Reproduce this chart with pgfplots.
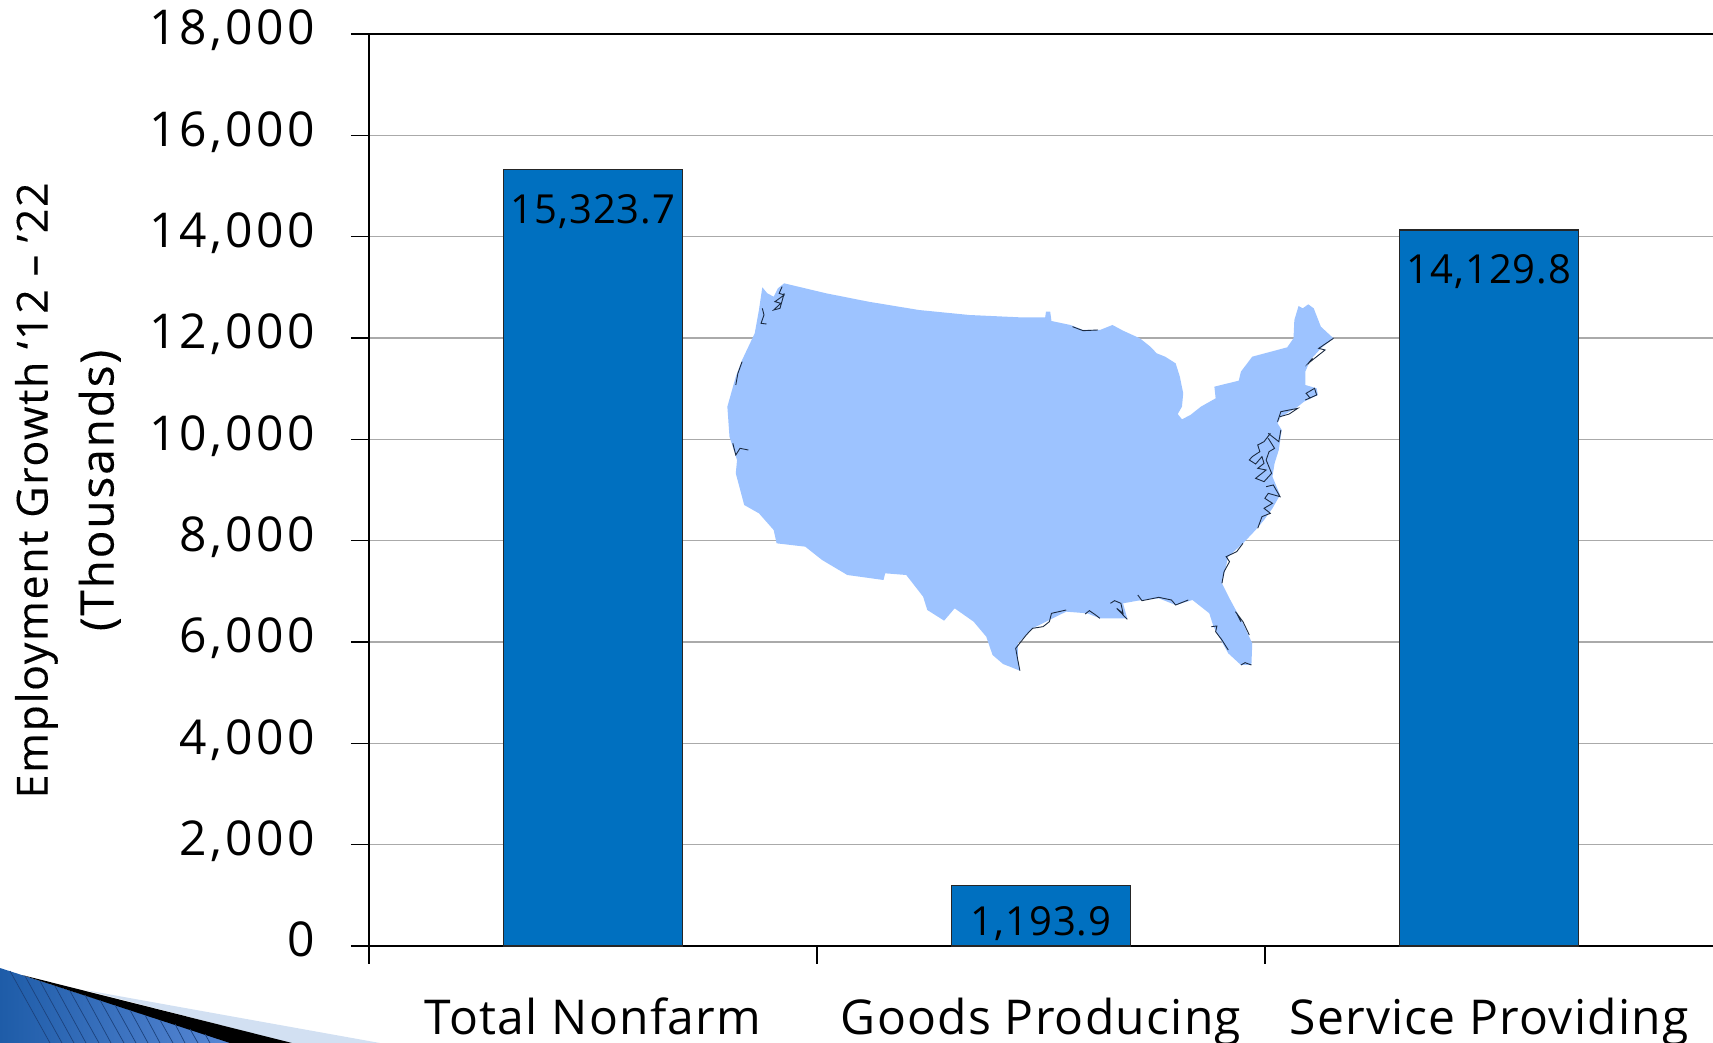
\documentclass[border=0pt]{standalone}
\usepackage{fontspec}
\setmainfont[LetterSpace=4]{Open Sans}
\usepackage{pgfplots}
\pgfplotsset{compat=1.18}
\definecolor{barblue}{RGB}{0,112,192}
\definecolor{mapblue}{RGB}{157,195,255}
\definecolor{coast}{RGB}{27,42,65}
\definecolor{gridg}{RGB}{170,170,170}
\definecolor{wl}{RGB}{30,92,168}
\definecolor{wr}{RGB}{88,136,214}
\definecolor{wband}{RGB}{210,224,242}
\definecolor{wstripe}{RGB}{28,66,125}
\begin{document}
\begin{tikzpicture}
\useasboundingbox (0,0) rectangle (856.5pt,521.5pt);
% main chart
\begin{axis}[
  at={(184.5pt,48.5pt)}, anchor=south west,
  scale only axis, width=672pt, height=456pt,
  xmin=0, xmax=3, ymin=0, ymax=18000,
  axis x line*=bottom, axis y line*=left,
  axis line style={black, line width=0.8pt, -},
  clip=false,
  ytick={0,2000,...,18000},
  xtick={0,1,2},
  xticklabels={},
  extra x ticks={0.5,1.5,2.5},
  extra x tick labels={Total Nonfarm,Goods Producing,Service Providing},
  extra x tick style={major tick length=0pt,
    tick label style={yshift=-22.5pt, font=\fontsize{24}{24}\selectfont\addfontfeature{LetterSpace=2.6}}},
  tick align=outside,
  major tick length=9pt,
  tick style={black, line width=0.8pt},
  ymajorgrids, grid style={gridg, line width=0.8pt},
  scaled y ticks=false,
  /pgf/number format/.cd, 1000 sep={,}, assume math mode=true,
  /pgfplots/.cd,
  yticklabel style={anchor=base east, xshift=-14.5pt, yshift=-5.4pt,
    font=\fontsize{24}{24}\selectfont\addfontfeature{LetterSpace=7}},
  ylabel={Employment Growth ‘12 – ’22\\{\fontsize{23}{33}\selectfont (Thousands)}},
  ylabel style={align=center, at={(axis description cs:-0.224,0.4995)}, anchor=center,
    font=\fontsize{21.4}{33}\selectfont\addfontfeature{FakeBold=0.25}},
]
\addplot[ybar, bar width=0.4, fill=barblue, draw=black!85, line width=0.7pt,
  bar shift=0pt,
  point meta=explicit symbolic,
  nodes near coords,
  every node near coord/.append style={anchor=center, yshift=-21pt, black,
    font=\fontsize{20}{20}\selectfont\addfontfeature{LetterSpace=2.5}}]
 coordinates {(0.5,15323.7)[15,323.7] (2.5,14129.8)[14,129.8]};
\addplot[ybar, bar width=0.4, fill=barblue, draw=black!85, line width=0.7pt,
  bar shift=0pt,
  point meta=explicit symbolic,
  nodes near coords,
  every node near coord/.append style={anchor=center, yshift=-19pt, black,
    font=\fontsize{20}{20}\selectfont\addfontfeature{LetterSpace=2.5}}]
 coordinates {(1.5,1193.9)[1,193.9]};
\addplot[black, line width=0.8pt, forget plot] coordinates {(-0.04,18000) (3,18000)};
\end{axis}
% decorative corner
\begin{axis}[
  at={(0pt,0pt)}, anchor=south west,
  scale only axis, width=856.5pt, height=521.5pt,
  xmin=0, xmax=1713, ymin=0, ymax=1043, y dir=reverse,
  hide axis, clip=true,
]
\addplot[draw=none, fill=wband] coordinates {(85,990) (290,1043) (380,1043) (85,990)};
\addplot[draw=none, left color=wl, right color=wr] coordinates {(0,968) (233,1043) (0,1043) (0,968)};
\addplot[draw=none, fill=black] coordinates {(22,975) (230,1043) (292,1043) (22,975)};
\addplot[draw=wstripe, line width=0.35pt, unbounded coords=jump] coordinates {
(10,971)(50,1043)(nan,nan)
(25,976)(62,1043)(nan,nan)
(40,981)(74,1043)(nan,nan)
(55,986)(86,1043)(nan,nan)
(70,991)(99,1043)(nan,nan)
(85,995)(111,1043)(nan,nan)
(100,1000)(124,1043)(nan,nan)
(115,1005)(136,1043)(nan,nan)
(130,1010)(148,1043)(nan,nan)
(145,1015)(160,1043)(nan,nan)
(160,1020)(173,1043)(nan,nan)
(175,1024)(185,1043)(nan,nan)
(190,1029)(198,1043)(nan,nan)
(205,1034)(210,1043)};
\end{axis}
% map
\begin{axis}[
  at={(350pt,181.5pt)}, anchor=south west,
  scale only axis, width=330pt, height=210pt,
  xmin=0, xmax=1568, ymin=0, ymax=1260, y dir=reverse,
  hide axis, clip=false,
]
\addplot[draw=none, fill=mapblue] coordinates {
(148,82)(160,100)(175,110)(185,85)(200,70)(300,100)(400,125)(520,150)(640,165)(760,172)(820,172)(822,155)(832,155)(835,183)(880,195)(910,210)(950,210)(980,195)(1005,212)(1045,235)(1070,260)(1085,280)(1105,290)(1130,310)(1140,350)(1148,400)(1145,440)(1135,462)(1145,478)(1165,465)(1190,440)(1225,415)(1222,380)(1280,362)(1285,335)(1312,290)(1395,262)(1410,235)(1412,180)(1422,138)(1432,145)(1445,133)(1458,145)(1475,200)(1505,235)(1475,265)(1450,300)(1438,335)(1438,375)(1465,385)(1468,405)(1435,425)(1415,445)(1380,470)(1372,490)(1382,510)(1375,570)(1365,610)(1360,650)(1378,705)(1360,745)(1340,780)(1320,810)(1290,850)(1255,890)(1240,970)(1260,1020)(1290,1090)(1312,1150)(1310,1215)(1285,1215)(1255,1180)(1220,1100)(1210,1060)(1170,1020)(1130,1035)(1090,1015)(1040,1022)(1005,1030)(1015,1075)(950,1075)(920,1060)(870,1055)(830,1080)(790,1105)(755,1150)(755,1200)(760,1232)(720,1212)(695,1185)(680,1130)(650,1085)(605,1045)(580,1082)(540,1050)(530,1010)(490,945)(440,940)(436,960)(350,945)(290,900)(250,860)(182,850)(175,810)(140,760)(105,735)(85,640)(88,600)(70,530)(65,440)(85,350)(100,300)(130,220)(140,150)(148,82)};
\addplot[draw=coast, line width=0.45pt, unbounded coords=jump] coordinates {
(195,80)(188,100)(200,105)(178,125)(192,130)(175,150)(190,145)(200,100)(nan,nan)
(148,145)(152,165)(145,190)(158,192)(nan,nan)
(100,305)(90,340)(85,375)(nan,nan)
(78,550)(85,585)(95,565)(115,570)(nan,nan)
(885,200)(910,212)(945,210)(nan,nan)
(1505,235)(1470,265)(1485,270)(1445,310)(1455,295)(1445,312)(nan,nan)
(1438,420)(1465,405)(1460,385)(1440,400)(1450,415)(nan,nan)
(1372,485)(1380,455)(1420,445)(1400,462)(1378,470)(nan,nan)
(1380,510)(1375,545)(1350,520)(nan,nan)
(1355,520)(1340,545)(1325,555)(1330,575)(1312,590)(1305,600)(1320,612)(1335,590)(1340,610)(1325,625)(1345,630)(1320,655)(1340,665)(1358,640)(1345,600)(1352,575)(1365,565)(1350,535)(nan,nan)
(1345,680)(1362,675)(1378,710)(1350,700)(1342,715)(1360,730)(1340,745)(1355,760)(1335,770)(1325,805)(nan,nan)
(1290,850)(1275,875)(1250,890)(1258,905)(1245,935)(1240,970)(nan,nan)
(1272,1055)(1290,1085)(1305,1125)(nan,nan)
(1275,1060)(1285,1085)(nan,nan)
(1285,1215)(1295,1208)(1310,1215)(nan,nan)
(1215,1100)(1228,1098)(1225,1115)(1240,1140)(1255,1170)(nan,nan)
(1040,1005)(1050,1022)(1090,1012)(1120,1020)(1130,1035)(1160,1020)(nan,nan)
(975,1030)(985,1022)(1000,1030)(1005,1060)(990,1045)(1015,1078)(nan,nan)
(950,1075)(940,1065)(925,1052)(915,1062)(nan,nan)
(870,1050)(835,1060)(830,1085)(815,1100)(790,1105)(775,1125)(750,1165)(755,1200)(760,1232)};
\end{axis}
\end{tikzpicture}
\end{document}
